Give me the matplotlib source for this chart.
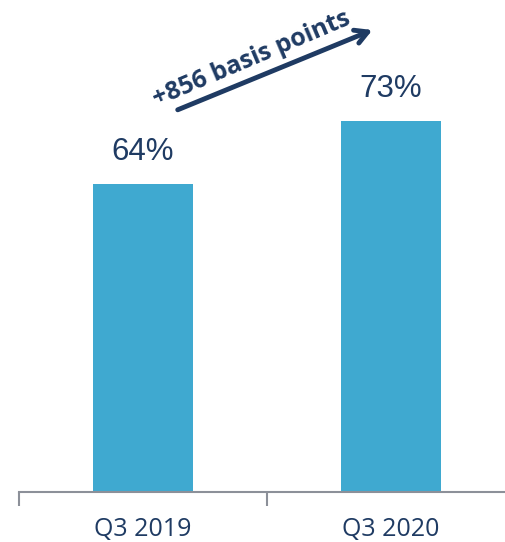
import matplotlib.pyplot as plt

categories = ['Q3 2019', 'Q3 2020']
values = [64, 73]
value_labels = ['64%', '73%']
change_label = '+856 basis points'

bar_color = '#3FA9D0'
text_color = '#1F3B63'
axis_color = '#8C9099'

fig = plt.figure(figsize=(5.06, 5.42), dpi=100)
ax = fig.add_axes([19 / 506, 50 / 542, 487 / 506, 492 / 542])

x = range(len(categories))
ax.bar(x, values, width=0.4, color=bar_color, zorder=2)

ax.set_xlim(-0.5, 1.5 - 9 / 248)
ax.set_ylim(20, 20 + 492 / 7)

# value labels above the bars
for xi, v, lab in zip(x, values, value_labels):
    ax.text(xi, v + 2.4, lab, ha='center', va='bottom', fontsize=22.5,
            color=text_color, family='Liberation Sans')

# arrow showing the change
ax.annotate('', xy=(0.925, 86.0), xytext=(0.14, 74.6),
            arrowprops=dict(arrowstyle='->,head_length=0.9,head_width=0.5',
                            color=text_color, lw=3.5, shrinkA=0, shrinkB=0))
ax.text(0.44, 81.9, change_label, rotation=23, ha='center', va='center',
        fontsize=18, fontweight='bold', color=text_color, family='Open Sans',
        rotation_mode='anchor')

# axis styling
for side in ['top', 'right', 'left']:
    ax.spines[side].set_visible(False)
ax.spines['bottom'].set_color(axis_color)
ax.spines['bottom'].set_linewidth(1.5)
ax.set_yticks([])
ax.set_xticks([-0.5, 0.5], minor=False)
ax.set_xticklabels([])
ax.tick_params(axis='x', length=10, width=1.5, color=axis_color)
for xi, cat in zip(x, categories):
    ax.text(xi, -0.05, cat, transform=ax.get_xaxis_transform(), ha='center',
            va='top', fontsize=18, color=text_color, family='Open Sans')

fig.savefig('out.png', dpi=100)
